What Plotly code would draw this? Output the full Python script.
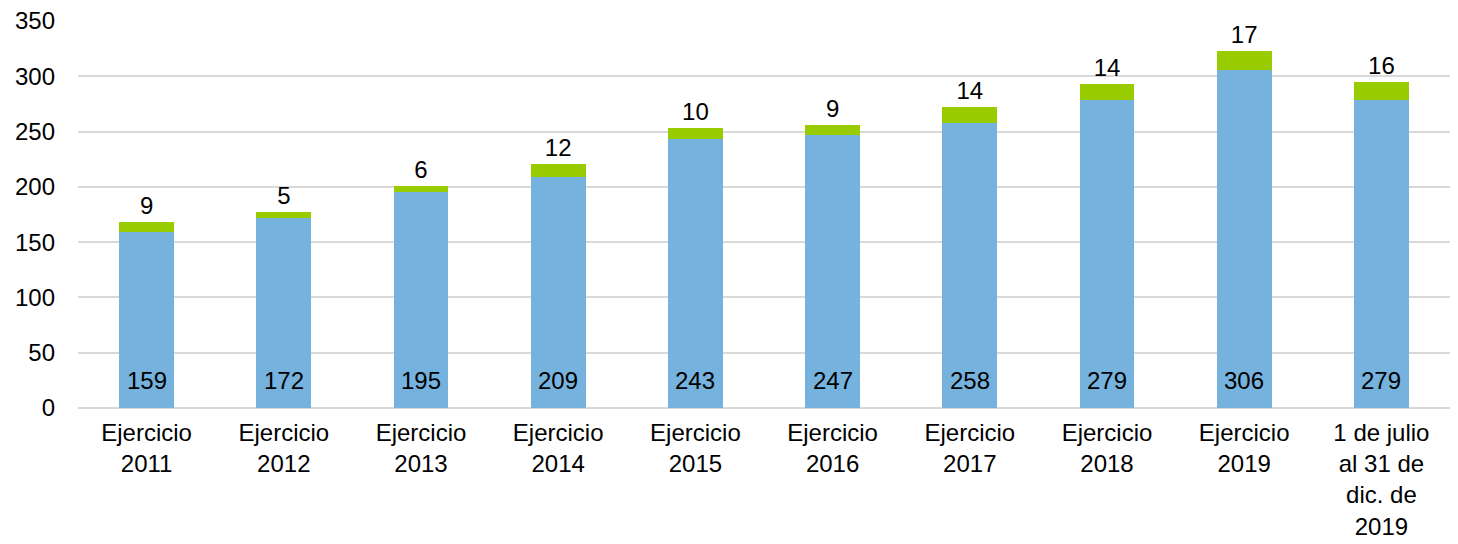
import plotly.graph_objects as go

categorias = ["Ejercicio<br>2011", "Ejercicio<br>2012", "Ejercicio<br>2013", "Ejercicio<br>2014",
              "Ejercicio<br>2015", "Ejercicio<br>2016", "Ejercicio<br>2017", "Ejercicio<br>2018",
              "Ejercicio<br>2019", "1 de julio<br>al 31 de<br>dic. de<br>2019"]
serie_azul = [159, 172, 195, 209, 243, 247, 258, 279, 306, 279]
serie_verde = [9, 5, 6, 12, 10, 9, 14, 14, 17, 16]

fuente = "Liberation Sans, Arial, sans-serif"
tam = 24

fig = go.Figure()
fig.add_trace(go.Bar(x=categorias, y=serie_azul, marker_color="#75B2DD",
                     marker_line_width=0, width=0.4))
fig.add_trace(go.Bar(x=categorias, y=serie_verde, marker_color="#99CC00",
                     marker_line_width=0, width=0.4,
                     text=serie_verde, textposition="outside",
                     textfont=dict(size=tam, color="black", family=fuente),
                     cliponaxis=False))

# etiquetas de la serie azul en la base de cada barra
for c, v in zip(categorias, serie_azul):
    fig.add_annotation(x=c, y=0, text=str(v), showarrow=False, yanchor="bottom",
                       yshift=12, font=dict(size=tam, color="black", family=fuente))

fig.update_layout(
    barmode="stack",
    width=1458, height=544,
    margin=dict(l=78, r=8, t=21, b=136),
    plot_bgcolor="white", paper_bgcolor="white",
    showlegend=False,
    font=dict(family=fuente, size=tam, color="black"),
)
fig.update_yaxes(range=[0, 350], dtick=50, showgrid=True, gridcolor="#D9D9D9", gridwidth=1.5,
                 zeroline=True, zerolinecolor="#D9D9D9", zerolinewidth=1.5,
                 ticklabelstandoff=22, tickfont=dict(size=tam))
fig.update_xaxes(showgrid=False, tickfont=dict(size=tam), showline=False,
                 ticklabelstandoff=8, automargin=False)

fig.write_html("out.html", config={"displayModeBar": False},
               post_script="document.body.style.margin='0';")
